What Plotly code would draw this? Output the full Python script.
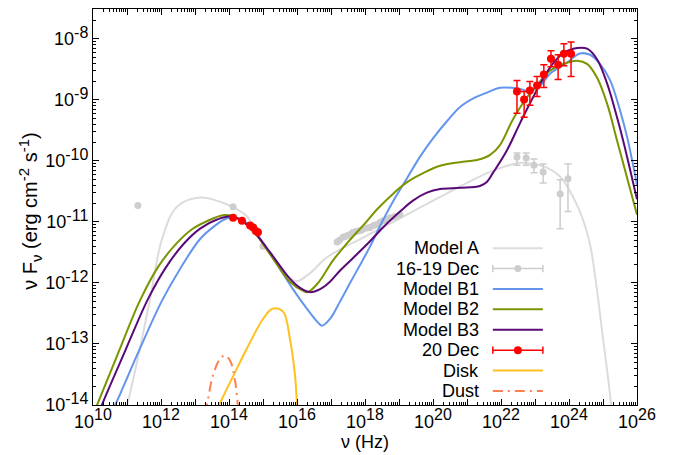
import numpy as np
import plotly.graph_objects as go

# ---------------------------------------------------------------------------
# SED models: log10(nu / Hz) and log10(nu F_nu / erg cm^-2 s^-1)
# ---------------------------------------------------------------------------
model_a_lognu = [10.94, 11.00, 11.38, 11.68, 12.03, 12.47, 13.15, 13.74, 14.12, 14.53,
                 15.00, 15.35, 15.71, 16.00, 16.38, 16.88, 18.00, 19.03, 20.21, 21.00,
                 21.59, 22.18, 22.56, 22.94, 23.35, 23.74, 24.12, 24.41, 24.62, 24.82,
                 25.00, 25.15, 25.24, 25.26]
model_a_logf = [-14.08, -14.00, -13.07, -12.26, -11.28, -10.75, -10.60, -10.67, -10.76, -10.91,
                -11.33, -11.64, -11.89, -11.97, -11.84, -11.58, -11.24, -10.94, -10.59, -10.36,
                -10.20, -10.08, -10.03, -10.05, -10.11, -10.26, -10.59, -10.96, -11.37, -12.10,
                -12.91, -13.56, -14.00, -14.13]

model_b1_lognu = [10.56, 10.65, 11.32, 12.03, 12.56, 13.15, 13.59, 13.94, 14.18,
                  14.47, 14.91, 15.50, 15.88, 16.29, 16.62, 16.74, 16.97, 17.26, 17.56,
                  17.85, 18.15, 18.44, 18.82, 19.24, 19.62, 20.00, 20.41, 20.79, 21.24,
                  21.59, 21.97, 22.47, 22.85, 23.15, 23.44, 23.94, 24.32, 24.62, 24.91,
                  25.21, 25.50, 25.71, 26.00]
model_b1_logf = [-14.08, -14.00, -13.15, -12.29, -11.77, -11.28, -11.06, -10.94, -10.93,
                 -10.99, -11.28, -11.77, -12.10, -12.42, -12.65, -12.70, -12.59, -12.31, -12.00,
                 -11.71, -11.40, -11.07, -10.67, -10.28, -9.93, -9.63, -9.35, -9.12, -8.96,
                 -8.88, -8.80, -8.81, -8.85, -8.77, -8.57, -8.39, -8.24, -8.26, -8.41,
                 -8.68, -9.17, -9.61, -10.39]

model_b2_lognu = [10.06, 10.12, 10.74, 11.38, 11.91, 12.41, 12.91, 13.38, 13.82,
                  14.12, 14.62, 15.21, 15.79, 16.18, 16.32, 16.62, 17.06, 17.50, 17.94,
                  18.38, 18.82, 19.26, 19.71, 20.21, 20.79, 21.32, 21.68, 21.97, 22.35,
                  22.76, 23.06, 23.44, 23.94, 24.24, 24.53, 24.82, 25.12, 25.41, 25.71,
                  26.00]
model_b2_logf = [-14.08, -14.00, -13.15, -12.29, -11.74, -11.38, -11.12, -10.98, -10.89,
                 -10.91, -11.09, -11.53, -11.98, -12.13, -12.15, -12.00, -11.63, -11.33, -11.06,
                 -10.78, -10.54, -10.34, -10.20, -10.08, -10.02, -9.98, -9.90, -9.74, -9.32,
                 -8.96, -8.76, -8.52, -8.39, -8.36, -8.41, -8.63, -9.06, -9.66, -10.28,
                 -10.88]

model_b3_lognu = [10.21, 10.26, 10.94, 11.62, 12.15, 12.65, 13.15, 13.65, 14.12, 14.62,
                  15.21, 15.79, 16.09, 16.38, 16.68, 16.97, 17.26, 17.65, 18.09, 18.53,
                  19.03, 19.41, 19.82, 20.21, 20.79, 21.38, 21.59, 21.76, 22.18, 22.56,
                  22.94, 23.44, 23.82, 24.24, 24.53, 24.82, 25.12, 25.41, 25.59, 26.00]
model_b3_logf = [-14.08, -14.00, -13.12, -12.26, -11.74, -11.37, -11.11, -10.96, -10.91, -11.09,
                 -11.50, -11.93, -12.08, -12.15, -12.10, -11.98, -11.80, -11.59, -11.35, -11.09,
                 -10.83, -10.65, -10.52, -10.46, -10.44, -10.41, -10.34, -10.20, -9.82, -9.38,
                 -8.96, -8.47, -8.24, -8.15, -8.16, -8.33, -8.73, -9.28, -9.66, -10.63]

disk_lognu = [13.65, 13.71, 14.12, 14.53, 15.00, 15.29, 15.59, 15.79, 15.94, 16.00, 16.01]
disk_logf = [-14.08, -14.00, -13.53, -13.07, -12.59, -12.42, -12.47, -12.91, -13.51, -14.00, -14.13]

dust_lognu = [13.29, 13.35, 13.53, 13.74, 13.88, 14.03, 14.18, 14.26, 14.29]
dust_logf = [-14.13, -14.00, -13.51, -13.24, -13.19, -13.27, -13.61, -14.00, -14.13]

# ---------------------------------------------------------------------------
# Observations
# ---------------------------------------------------------------------------
# 16-19 Dec, radio / optical / X-ray points
dec16_lo_lognu = [11.32, 14.12, 15.00, 17.18, 17.25, 17.35, 17.42, 17.50, 17.58, 17.65,
                  17.72, 17.79, 17.87, 17.94, 18.05, 18.15, 18.25, 18.35, 18.44, 18.53,
                  18.64, 18.74, 18.88, 19.03]
dec16_lo_logf = [-10.73, -10.75, -11.40, -11.33, -11.30, -11.25, -11.24, -11.22, -11.20, -11.17,
                 -11.16, -11.15, -11.14, -11.12, -11.10, -11.09, -11.06, -11.04, -11.01, -10.98,
                 -10.96, -10.93, -10.91, -10.88]
# 16-19 Dec, gamma-ray points with errors
dec16_hi_lognu = [22.47, 22.74, 22.97, 23.24, 23.74, 23.97]
dec16_hi_logf = [-9.935, -9.951, -10.07, -10.18, -10.54, -10.29]
dec16_hi_logup = [-9.87, -9.87, -9.967, -10.05, -10.31, -10.05]
dec16_hi_logdn = [-10.07, -10.07, -10.195, -10.36, -11.11, -10.83]

# 20 Dec, optical points
dec20_lo_lognu = [14.12, 14.38, 14.62, 14.71, 14.79, 14.85]
dec20_lo_logf = [-10.93, -10.98, -11.06, -11.09, -11.15, -11.17]
# 20 Dec, gamma-ray points with errors
dec20_hi_lognu = [22.47, 22.68, 22.85, 23.06, 23.26, 23.47, 23.68, 23.85, 24.06]
dec20_hi_logf = [-8.862, -8.992, -8.846, -8.764, -8.585, -8.325, -8.423, -8.244, -8.244]
dec20_hi_logup = [-8.683, -8.862, -8.699, -8.618, -8.423, -8.195, -8.260, -8.081, -8.049]
dec20_hi_logdn = [-9.220, -9.285, -9.089, -8.943, -8.797, -8.455, -8.667, -8.439, -8.618]

# Axis decades
x_decades = list(range(10, 27))
y_decades = list(range(-14, -7))

# Styles
C_A = "#dcdcdc"
C_PTS = "#cdcdcd"
C_B1 = "#6495ed"
C_B2 = "#7c9400"
C_B3 = "#5a0a78"
C_RED = "#ff0000"
C_DISK = "#ffc020"
C_DUST = "#ff7f50"
FONT = "Liberation Sans, Arial, sans-serif"
DUST_DASH = "10px,5px,2px,5px"


def p10(v):
    return np.power(10.0, np.asarray(v, dtype=float))


fig = go.Figure()


def add_curve(lognu, logf, color, dash="solid", name=""):
    fig.add_trace(go.Scatter(
        x=p10(lognu), y=p10(logf), mode="lines", name=name,
        line=dict(color=color, width=2, dash=dash, shape="spline", smoothing=1.0),
        showlegend=False, hoverinfo="skip"))


add_curve(model_a_lognu, model_a_logf, C_A, name="Model A")

# 16-19 Dec data
fig.add_trace(go.Scatter(
    x=p10(dec16_lo_lognu), y=p10(dec16_lo_logf), mode="markers",
    marker=dict(color=C_PTS, size=7), showlegend=False))
y16 = p10(dec16_hi_logf)
fig.add_trace(go.Scatter(
    x=p10(dec16_hi_lognu), y=y16, mode="markers",
    marker=dict(color=C_PTS, size=7),
    error_y=dict(type="data", symmetric=False,
                 array=p10(dec16_hi_logup) - y16,
                 arrayminus=y16 - p10(dec16_hi_logdn),
                 color=C_PTS, thickness=1.5, width=3.5),
    showlegend=False))

add_curve(model_b1_lognu, model_b1_logf, C_B1, name="Model B1")
add_curve(model_b2_lognu, model_b2_logf, C_B2, name="Model B2")
add_curve(model_b3_lognu, model_b3_logf, C_B3, name="Model B3")

# 20 Dec data
fig.add_trace(go.Scatter(
    x=p10(dec20_lo_lognu), y=p10(dec20_lo_logf), mode="markers",
    marker=dict(color=C_RED, size=8), showlegend=False))
y20 = p10(dec20_hi_logf)
fig.add_trace(go.Scatter(
    x=p10(dec20_hi_lognu), y=y20, mode="markers",
    marker=dict(color=C_RED, size=8),
    error_y=dict(type="data", symmetric=False,
                 array=p10(dec20_hi_logup) - y20,
                 arrayminus=y20 - p10(dec20_hi_logdn),
                 color=C_RED, thickness=1.5, width=3.5),
    showlegend=False))

add_curve(disk_lognu, disk_logf, C_DISK, name="Disk")
add_curve(dust_lognu, dust_logf, C_DUST, dash=DUST_DASH, name="Dust")

# ---------------------------------------------------------------------------
# Axes
# ---------------------------------------------------------------------------
def sup(n):
    return "10<sup><span style='font-size:16px'>%d</span></sup>" % n


x_ticktext = [sup(n) if n % 2 == 0 else "" for n in x_decades]
x_minor = [k * 10.0 ** n for n in x_decades[:-1] for k in range(2, 10)]
y_minor = [k * 10.0 ** n for n in range(-14, -7) for k in range(2, 10)]

axis_common = dict(
    type="log", showgrid=False, zeroline=False, showline=True,
    linecolor="black", linewidth=1.2, mirror="allticks",
    ticks="inside", ticklen=6, tickwidth=1, tickcolor="black",
    tickfont=dict(family=FONT, size=18, color="black"),
)

fig.update_xaxes(
    **axis_common, range=[10, 26],
    tickmode="array", tickvals=p10(x_decades), ticktext=x_ticktext,
    minor=dict(tickmode="array", tickvals=x_minor, ticks="inside",
               ticklen=3, tickcolor="black", showgrid=False),
    title=dict(text="ν (Hz)", font=dict(family=FONT, size=18, color="black"),
               standoff=3),
)
fig.update_yaxes(
    **axis_common, range=[-14, -7.51],
    tickmode="array", tickvals=p10(y_decades), ticktext=[sup(n) for n in y_decades],
    minor=dict(tickmode="array", tickvals=y_minor, ticks="inside",
               ticklen=3, tickcolor="black", showgrid=False),
)

# ---------------------------------------------------------------------------
# Key: text on the left, sample on the right
# ---------------------------------------------------------------------------
key_entries = [
    ("Model A", C_A, "line"),
    ("16-19 Dec", C_PTS, "errbar"),
    ("Model B1", C_B1, "line"),
    ("Model B2", C_B2, "line"),
    ("Model B3", C_B3, "line"),
    ("20 Dec", C_RED, "errbar"),
    ("Disk", C_DISK, "line"),
    ("Dust", C_DUST, "dashdot"),
]
key_text_x = 0.714
key_x0, key_x1 = 0.735, 0.827
key_top, key_step = 0.396, 0.0515
cap_half = 0.009

small = "<span style='font-size:15px'>%s</span>"
y_title = ("ν F<sub>" + small % "ν" + "</sub> (erg cm<sup>" + small % "-2"
           + "</sup> s<sup>" + small % "-1" + "</sup>)")

shapes = []
annotations = [dict(
    x=-0.116, y=0.49, xref="paper", yref="paper", textangle=-90,
    text=y_title, showarrow=False, xanchor="center", yanchor="middle",
    font=dict(family=FONT, size=20, color="black"))]
for i, (label, color, kind) in enumerate(key_entries):
    yk = key_top - i * key_step
    annotations.append(dict(
        x=key_text_x, y=yk, xref="paper", yref="paper", text=label,
        showarrow=False, xanchor="right", yanchor="middle",
        font=dict(family=FONT, size=18, color="black")))
    dash = DUST_DASH if kind == "dashdot" else "solid"
    width = 1.5 if kind == "errbar" else 2
    shapes.append(dict(type="line", xref="paper", yref="paper",
                       x0=key_x0, x1=key_x1, y0=yk, y1=yk,
                       line=dict(color=color, width=width, dash=dash)))
    if kind == "errbar":
        for xc in (key_x0, key_x1):
            shapes.append(dict(type="line", xref="paper", yref="paper",
                               x0=xc, x1=xc, y0=yk - cap_half, y1=yk + cap_half,
                               line=dict(color=color, width=1.5)))
        r = 4 if color == C_RED else 3.5
        shapes.append(dict(type="circle", xref="paper", yref="paper",
                           xsizemode="pixel", ysizemode="pixel",
                           xanchor=(key_x0 + key_x1) / 2, yanchor=yk,
                           x0=-r, x1=r, y0=-r, y1=r,
                           fillcolor=color, line=dict(color=color, width=0)))

fig.update_layout(
    width=680, height=455,
    margin=dict(l=93, r=43, t=8, b=48),
    paper_bgcolor="white", plot_bgcolor="white",
    font=dict(family=FONT, color="black"),
    shapes=shapes, annotations=annotations,
    showlegend=False,
)

fig.write_html("out.html")
